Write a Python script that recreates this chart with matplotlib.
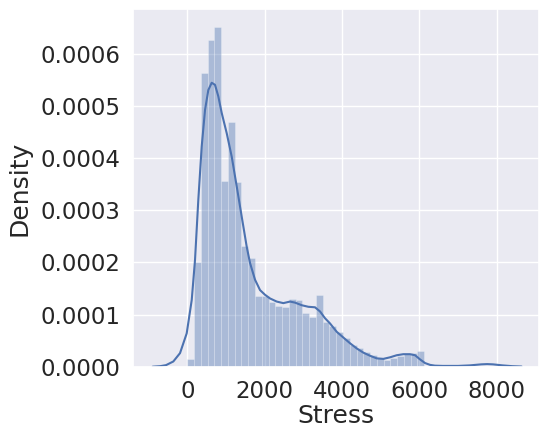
import matplotlib
matplotlib.use("Agg")
import matplotlib.pyplot as plt
import numpy as np
import seaborn as sns

# --- Data ---

bin_start = 0
bin_width = 175
# histogram densities, one per bin
hist_density = [
    0.000015, 0.000200, 0.000563, 0.000627, 0.000652, 0.000357, 0.000469,
    0.000354, 0.000231, 0.000209, 0.000135, 0.000136, 0.000125, 0.000116,
    0.000114, 0.000129, 0.000128, 0.000103, 0.000096, 0.000138, 0.000086,
    0.000078, 0.000066, 0.000055, 0.000042, 0.000036, 0.000029, 0.000023,
    0.000017, 0.000013, 0.000017, 0.000021, 0.000025, 0.000027, 0.000031,
]

# kde curve points
kde_x = [
    -896, -700, -550, -362, -189, -16, 114, 199, 284, 372, 458, 543, 630,
    716, 801, 889, 1019, 1148, 1277, 1406, 1536, 1621, 1750, 1880, 2009,
    2138, 2311, 2482, 2655, 2784, 2957, 3128, 3301, 3431, 3560, 3689, 3862,
    4033, 4206, 4380, 4550, 4723, 4897, 5067, 5240, 5414, 5584, 5757, 5887,
    6016, 6145, 6275, 6400, 6600, 7000, 7300, 7600, 7750, 7900, 8150, 8400,
    8640,
]
kde_y = [
    0.000000, 0.000001, 0.000003, 0.000010, 0.000026, 0.000064, 0.000128,
    0.000205, 0.000320, 0.000423, 0.000493, 0.000531, 0.000545, 0.000541,
    0.000519, 0.000487, 0.000448, 0.000403, 0.000346, 0.000288, 0.000230,
    0.000199, 0.000167, 0.000147, 0.000138, 0.000131, 0.000125, 0.000122,
    0.000125, 0.000123, 0.000118, 0.000115, 0.000114, 0.000106, 0.000093,
    0.000083, 0.000067, 0.000056, 0.000045, 0.000035, 0.000027, 0.000021,
    0.000016, 0.000015, 0.000018, 0.000022, 0.000024, 0.000024, 0.000022,
    0.000014, 0.000007, 0.0000035, 0.000002, 0.0000015, 0.0000015,
    0.0000025, 0.0000045, 0.000005, 0.0000045, 0.0000025, 0.000001,
    0.0000003,
]

sns.set_theme(style="darkgrid", font_scale=1.5)
color = sns.color_palette("deep")[0]

fig = plt.figure(figsize=(5.5, 4.41), dpi=100)
ax = fig.add_axes([0.2424, 0.1685, 0.7382, 0.8104])

lefts = bin_start + bin_width * np.arange(len(hist_density))
ax.bar(lefts, hist_density, width=bin_width, align="edge", color=color,
       alpha=0.4, edgecolor="white", linewidth=0.4)
ax.plot(kde_x, kde_y, color=color, linewidth=1.5)

ax.set_xlim(-1396, 9100)
ax.set_ylim(0, 0.000686)
ax.set_xticks([0, 2000, 4000, 6000, 8000])
ax.set_yticks([0, 0.0001, 0.0002, 0.0003, 0.0004, 0.0005, 0.0006])
ax.set_xlabel("Stress", labelpad=1)
ax.set_ylabel("Density", labelpad=6)

fig.savefig("out.png", dpi=100)
